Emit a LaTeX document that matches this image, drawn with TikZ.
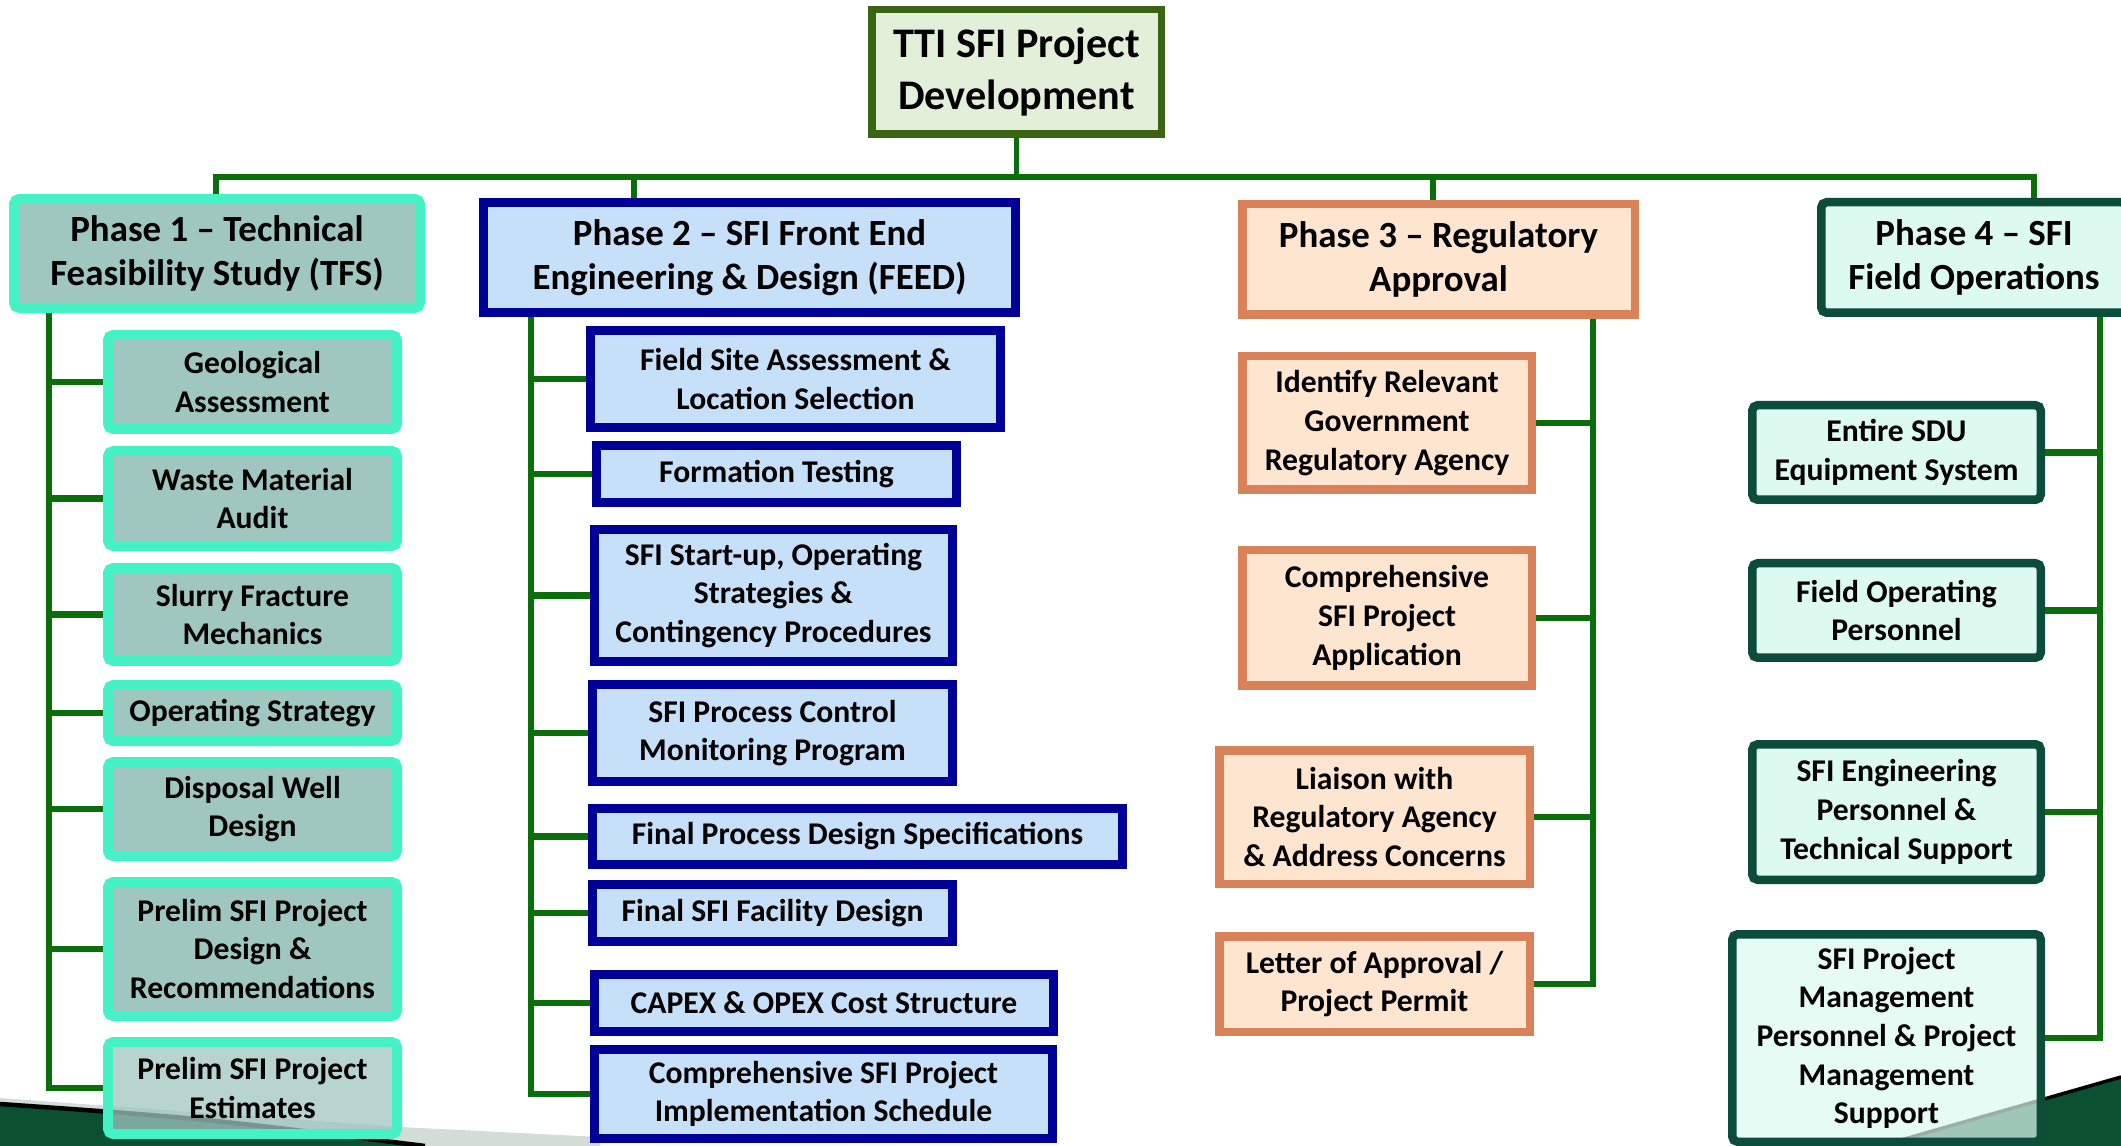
\documentclass[tikz,border=0pt]{standalone}
\usepackage{fontspec}
\setmainfont{Carlito}
\usepackage{xcolor}
\usepackage{tikz}

\definecolor{linkgreen}{RGB}{10,110,10}
\definecolor{rootline}{RGB}{56,100,20}
\definecolor{rootfill}{RGB}{226,239,217}
\definecolor{tfsline}{RGB}{69,242,198}
\definecolor{tfsfill}{RGB}{159,198,191}
\definecolor{feedline}{RGB}{0,0,153}
\definecolor{feedfill}{RGB}{198,224,250}
\definecolor{regline}{RGB}{217,130,90}
\definecolor{regfill}{RGB}{253,229,208}
\definecolor{opsline}{RGB}{12,77,58}
\definecolor{opsfill}{RGB}{221,250,241}
\definecolor{decodark}{RGB}{12,80,50}
\definecolor{decogrey}{RGB}{212,220,216}

\tikzset{
  box/.style={draw, align=center, inner sep=0pt, font=\bfseries\fontsize{9}{11}\selectfont},
  phasefont/.style={font=\bfseries\fontsize{10.5}{12.6}\selectfont},
  tfs/.style={box, draw=tfsline, fill=tfsfill, line width=1mm, rounded corners=1.5pt},
  feed/.style={box, draw=feedline, fill=feedfill, line width=0.9mm},
  reg/.style={box, draw=regline, fill=regfill, line width=0.85mm},
  ops/.style={box, draw=opsline, fill=opsfill, line width=0.85mm, rounded corners=1.5pt},
  link/.style={draw=linkgreen, line width=0.55mm},
  branch/.style={draw=linkgreen, line width=0.65mm}
}

\begin{document}
\begin{tikzpicture}[x=0.1mm,y=-0.1mm]
    \useasboundingbox (0,0) rectangle (2121,1146);
    \clip (0,0) rectangle (2121,1146);

    \fill[decogrey] (0,1098) -- (400,1127) -- (600,1137) -- (600,1146) -- (0,1146) -- cycle;
    \fill[decodark] (0,1104) .. controls (200,1118) .. (425,1146) -- (0,1146) -- cycle;
    \draw[black, line width=0.45mm] (0,1104) .. controls (200,1118) .. (425,1146);
    \fill[decodark] (1880,1146) -- (2121,1077) -- (2121,1146) -- cycle;
    \draw[black, line width=0.35mm] (1880,1146) -- (2121,1077);

    \node[box, draw=rootline, fill=rootfill, line width=0.75mm, minimum width=28.95mm, minimum height=12.45mm,
          font=\bfseries\fontsize{12}{14.7}\selectfont] (root) at (1016.5,72) {TTI SFI Project\\Development};

    \node[tfs, phasefont, minimum width=40.6mm, minimum height=10.9mm] (tfs) at (217,253.5) {Phase 1 -- Technical\\Feasibility Study (TFS)};
    \node[feed, phasefont, minimum width=53.2mm, minimum height=11mm] (feed) at (749.5,257.5) {Phase 2 -- SFI Front End\\Engineering \& Design (FEED)};
    \node[reg, phasefont, minimum width=39.25mm, minimum height=11.05mm] (reg) at (1438.5,259.5) {Phase 3 -- Regulatory\\Approval};
    \node[ops, phasefont, minimum width=30.55mm, minimum height=11.05mm] (ops) at (1974,257.5) {Phase 4 -- SFI\\Field Operations};

    \node[tfs, minimum width=28.9mm, minimum height=9.4mm] (geo) at (252.5,382) {Geological\\Assessment};
    \node[tfs, minimum width=28.9mm, minimum height=9.5mm] (waste) at (252.5,498.5) {Waste Material\\Audit};
    \node[tfs, minimum width=28.9mm, minimum height=9.3mm] (slurry) at (252.5,614.5) {Slurry Fracture\\Mechanics};
    \node[tfs, minimum width=28.9mm, minimum height=5.6mm] (opstrat) at (252.5,713) {Operating Strategy};
    \node[tfs, minimum width=28.9mm, minimum height=9.4mm] (disposal) at (252.5,809) {Disposal Well\\Design};
    \node[tfs, minimum width=28.9mm, minimum height=13.4mm] (prelimdes) at (252.5,949) {Prelim SFI Project\\Design \&\\Recommendations};
    \node[tfs, fill opacity=0.75, text opacity=1, minimum width=28.9mm, minimum height=9.2mm] (prelimest) at (252.5,1088) {Prelim SFI Project\\Estimates};

    \node[feed, minimum width=41mm, minimum height=9.7mm] (fieldsite) at (795.5,379) {Field Site Assessment \&\\Location Selection};
    \node[feed, minimum width=36mm, minimum height=5.7mm] (formation) at (776.5,474) {Formation Testing};
    \node[feed, minimum width=35.8mm, minimum height=13.2mm] (startup) at (773.5,595.5) {SFI Start-up, Operating\\Strategies \&\\Contingency Procedures};
    \node[feed, minimum width=36mm, minimum height=9.7mm] (control) at (772.5,733) {SFI Process Control\\Monitoring Program};
    \node[feed, minimum width=53mm, minimum height=5.6mm] (finalspec) at (857.5,836.5) {Final Process Design Specifications};
    \node[feed, minimum width=36mm, minimum height=5.7mm] (facility) at (772.5,913) {Final SFI Facility Design};
    \node[feed, minimum width=45.9mm, minimum height=5.7mm] (capex) at (824,1003) {CAPEX \& OPEX Cost Structure};
    \node[feed, minimum width=45.8mm, minimum height=8.9mm] (schedule) at (823.5,1094) {Comprehensive SFI Project\\Implementation Schedule};

    \node[reg, minimum width=28.95mm, minimum height=13.35mm] (agency) at (1387,423) {Identify Relevant\\Government\\Regulatory Agency};
    \node[reg, minimum width=28.95mm, minimum height=13.55mm] (application) at (1387,618) {Comprehensive\\SFI Project\\Application};
    \node[reg, minimum width=31.05mm, minimum height=13.35mm] (liaison) at (1374.5,817) {Liaison with\\Regulatory Agency\\\& Address Concerns};
    \node[reg, minimum width=31.05mm, minimum height=9.55mm] (permit) at (1374.5,984) {Letter of Approval /\\Project Permit};

    \node[ops, minimum width=28.85mm, minimum height=9.45mm] (sdu) at (1896.5,452.5) {Entire SDU\\Equipment System};
    \node[ops, minimum width=28.85mm, minimum height=9.45mm] (fieldpers) at (1896.5,610.5) {Field Operating\\Personnel};
    \node[ops, minimum width=28.85mm, minimum height=13.55mm] (engpers) at (1896.5,812) {SFI Engineering\\Personnel \&\\Technical Support};
    \node[ops, fill opacity=0.7, text opacity=1, minimum width=30.85mm, minimum height=20.75mm] (mgmt) at (1886.5,1038) {SFI Project\\Management\\Personnel \& Project\\Management\\Support};

    \coordinate (d1) at (216,177);
    \coordinate (d2) at (634,177);
    \coordinate (d3) at (1433,177);
    \coordinate (d4) at (2034,177);
    \draw[link] (root.south) -- (root.south |- d1);
    \draw[link] (d1 |- tfs.north) -- (d1) -- (d4) -- (d4 |- ops.north);
    \draw[link] (d2) -- (d2 |- feed.north);
    \draw[link] (d3) -- (d3 |- reg.north);

    \coordinate (s1) at (49,0);
    \coordinate (s2) at (531,0);
    \coordinate (s3) at (1593,0);
    \coordinate (s4) at (2100,0);
    \draw[link] (s1 |- tfs.south) |- (prelimest.west);
    \foreach \n in {geo,waste,slurry,opstrat,disposal,prelimdes}
        \draw[branch] (s1 |- \n.west) -- (\n.west);
    \draw[link] (s2 |- feed.south) |- (schedule.west);
    \foreach \n in {fieldsite,formation,startup,control,finalspec,facility,capex}
        \draw[branch] (s2 |- \n.west) -- (\n.west);
    \draw[link] (s3 |- reg.south) |- (permit.east);
    \foreach \n in {agency,application,liaison}
        \draw[branch] (s3 |- \n.east) -- (\n.east);
    \draw[link] (s4 |- ops.south) |- (mgmt.east);
    \foreach \n in {sdu,fieldpers,engpers}
        \draw[branch] (s4 |- \n.east) -- (\n.east);
\end{tikzpicture}
\end{document}
